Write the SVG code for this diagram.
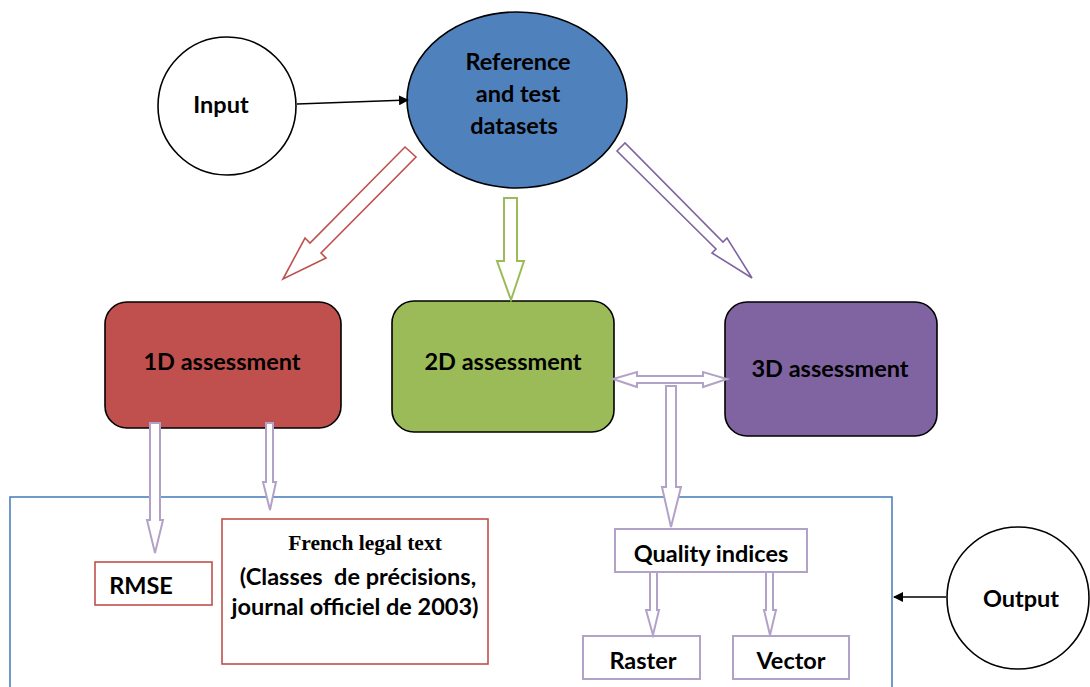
<svg xmlns="http://www.w3.org/2000/svg" width="1090" height="687" viewBox="0 0 1090 687">
<defs>
<marker id="ah" markerWidth="10" markerHeight="10" refX="9" refY="5" orient="auto" markerUnits="userSpaceOnUse">
<path d="M0,0 L10,5 L0,10 Z" fill="#000"/>
</marker>
<style>
.t{font-family:Lato,"Liberation Sans",sans-serif;font-weight:bold;font-size:23.5px;fill:#000;text-anchor:middle}
.bk{fill:none;stroke:#000;stroke-width:1.6}
.pa{fill:#fff;stroke:#B3A2C7;stroke-width:2}
.box{stroke:#000;stroke-width:1.6}
</style>
</defs>
<rect width="1090" height="687" fill="#fff"/>
<g id="output-frame">
<rect x="10" y="497" width="882" height="210" fill="none" stroke="#4F81BD" stroke-width="1.6"/>
</g>
<g id="input">
<circle cx="227" cy="106" r="69" fill="#fff" stroke="#000" stroke-width="1.6"/>
<text class="t" x="221" y="113">Input</text>
</g>
<g id="datasets">
<ellipse cx="517" cy="100" rx="110" ry="88" fill="#4F81BD" stroke="#000" stroke-width="1.6"/>
<text class="t" x="518" y="70">Reference</text>
<text class="t" x="518" y="102">and test</text>
<text class="t" x="514" y="134">datasets</text>
</g>
<g id="assess1d">
<rect x="105" y="302" width="236" height="126" rx="22" fill="#C0504D" class="box"/>
<text class="t" x="222" y="370">1D assessment</text>
</g>
<g id="assess2d">
<rect x="392" y="301" width="222" height="131" rx="22" fill="#9BBB59" class="box"/>
<text class="t" x="503" y="370">2D assessment</text>
</g>
<g id="assess3d">
<rect x="725" y="302" width="212" height="134" rx="22" fill="#8064A2" class="box"/>
<text class="t" x="830" y="377">3D assessment</text>
</g>
<g id="rmse">
<rect x="95" y="562" width="117" height="43" fill="#fff" stroke="#C0504D" stroke-width="1.6"/>
<text class="t" x="141" y="594">RMSE</text>
</g>
<g id="french">
<rect x="222" y="519" width="266" height="145" fill="#fff" stroke="#C0504D" stroke-width="1.6"/>
<text x="365" y="550" font-family="'Liberation Serif',serif" font-weight="bold" font-size="21.5" text-anchor="middle">French legal text</text>
<text class="t" x="358" y="585" xml:space="preserve">(Classes  de précisions,</text>
<text class="t" x="355" y="615">journal officiel de 2003)</text>
</g>
<g id="quality">
<rect x="615" y="529" width="192" height="43" fill="#fff" stroke="#B3A2C7" stroke-width="2"/>
<text class="t" x="711" y="562">Quality indices</text>
</g>
<g id="raster">
<rect x="583" y="636" width="117" height="43" fill="#fff" stroke="#B3A2C7" stroke-width="2"/>
<text class="t" x="643" y="669">Raster</text>
</g>
<g id="vector">
<rect x="733" y="636" width="116" height="43" fill="#fff" stroke="#B3A2C7" stroke-width="2"/>
<text class="t" x="791" y="669">Vector</text>
</g>
<g id="output">
<circle cx="1018" cy="598" r="71" fill="#fff" stroke="#000" stroke-width="1.6"/>
<text class="t" x="1021" y="607">Output</text>
</g>
<g id="connectors">
<line x1="297" y1="104" x2="408" y2="100" class="bk" marker-end="url(#ah)"/>
<line x1="946" y1="597" x2="894" y2="597" class="bk" marker-end="url(#ah)"/>
<polygon points="405,147 416,157 321,253 326,258 283,279 305,238 310,243" fill="#fff" stroke="#C0504D" stroke-width="1.6"/>
<polygon points="504,198 517,198 517,261 524,261 511,300 497,261 504,261" fill="#fff" stroke="#9BBB59" stroke-width="2"/>
<polygon points="617,151 625,143 723,242 727,238 752,278 712,253 716,249" fill="#fff" stroke="#8064A2" stroke-width="1.6"/>
<polygon class="pa" points="613,379 637,372 637,376 703,376 703,372 727,379 703,387 703,383 637,383 637,387"/>
<polygon class="pa" points="666,386 676,386 676,487 681,487 671,527 662,487 666,487"/>
<polygon class="pa" points="150,423 160,423 160,520 163,520 155,553 147,520 150,520"/>
<polygon class="pa" points="266,423 273,423 273,482 276,482 270,510 263,482 266,482"/>
<polygon class="pa" points="650,572 657,572 657,610 659,610 653,635 646,610 650,610"/>
<polygon class="pa" points="766,572 773,572 773,610 776,610 770,635 764,610 766,610"/>
</g>
</svg>
